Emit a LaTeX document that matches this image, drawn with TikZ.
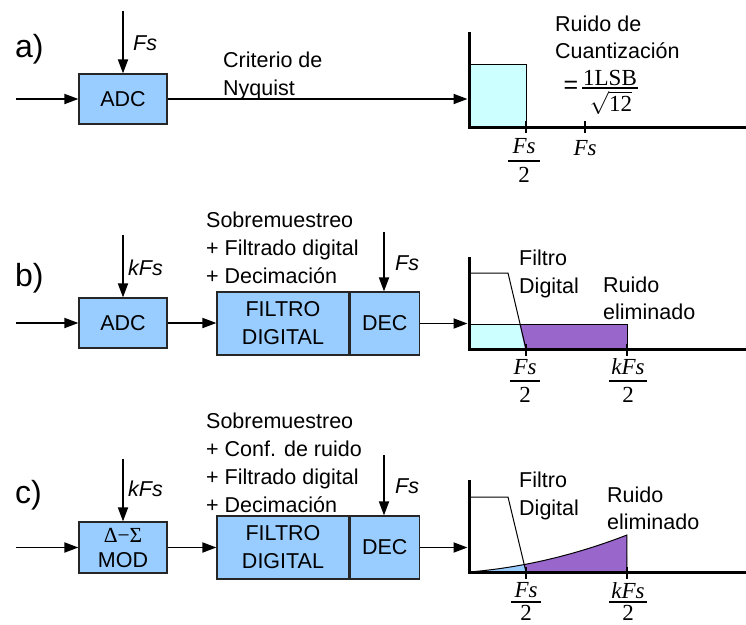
\RequirePackage{fix-cm}
\documentclass[tikz,border=0pt]{standalone}
\usepackage{fontspec}
\setmainfont{Liberation Serif}
\setsansfont{Liberation Sans}
\usetikzlibrary{arrows.meta}
\definecolor{boxblue}{HTML}{99CCFF}
\definecolor{lcyan}{HTML}{CCFFFF}
\definecolor{npurple}{HTML}{9966CC}
\begin{document}
\begin{tikzpicture}[x=1pt,y=-1pt,
  blk/.style={draw=black!85, fill=boxblue, line width=1.2pt, font=\sffamily\fontsize{21.5}{28}\selectfont, align=center, inner sep=0},
  sig/.style={line width=1.8pt, -{Triangle[length=14pt,width=10pt]}},
  axisln/.style={line width=3pt},
  lbl/.style={font=\sffamily\fontsize{21.5}{27.7}\selectfont, align=left, inner sep=0, anchor=west},
  clk/.style={font=\sffamily\itshape\fontsize{21.5}{24}\selectfont, inner sep=0, anchor=base west},
  part/.style={font=\sffamily\fontsize{32}{32}\selectfont, inner sep=0, anchor=base west},
  mth/.style={font=\rmfamily\itshape\fontsize{23}{23}\selectfont, inner sep=0},
  mthu/.style={font=\rmfamily\fontsize{23}{23}\selectfont, inner sep=0},
  fbar/.style={line width=1.5pt},
  tickln/.style={line width=1.3pt},
  thin/.style={line width=1pt}]
\useasboundingbox (0,0) rectangle (746,624);

% ================= a) =================
\node[part] (la) at (15,57) {a)};
\node[blk, minimum width=88pt, minimum height=50pt] (adcA) at (123,99) {ADC};
\coordinate (inA) at (16,99);
\coordinate (ckA) at (123,11);
\coordinate (outA) at (467.5,99);
\draw[sig] (inA) -- (adcA);
\draw[sig] (ckA) -- (adcA);
\draw[sig] (adcA) -- (outA);
\node[clk] (fsA) at (133,50) {Fs};
\node[lbl] (crit) at (223,75.8) {Criterio de\\Nyquist};
% plot a
\filldraw[fill=lcyan, draw=black, thin] (469,64) rectangle (526,127);
\draw[axisln] (469,32) -- (469,127) -- (746,127);
\draw[tickln] (526,121) -- (526,133);
\draw[tickln] (585,121) -- (585,133);
\node[mth] (fa1n) at (524,146) {Fs};
\draw[fbar] (508,161) -- (540,161);
\node[mthu] (fa1d) at (524,175) {2};
\node[mth] (fa2) at (585,148) {Fs};
\node[lbl, font=\sffamily\fontsize{21.5}{26.7}\selectfont] (ruidoA) at (555,37.5) {Ruido de\\Cuantización};
\node[font=\sffamily\fontsize{25}{25}\selectfont, inner sep=0] (eqA) at (571,87.5) {=};
\node[font=\rmfamily\fontsize{23}{23}\selectfont, inner sep=0] (lsbn) at (610,78) {1LSB};
\draw[fbar] (582,88) -- (638,88);
\node[font=\rmfamily\fontsize{23}{23}\selectfont, inner sep=0] (lsbd) at (611,103) {$\sqrt{\textrm{12}}$};

% ================= b) =================
\node[part] (lb) at (15,286) {b)};
\node[blk, minimum width=88pt, minimum height=50pt] (adcB) at (123,323) {ADC};
\node[blk, minimum width=132pt, minimum height=63pt] (filtB) at (283,323.5) {FILTRO\\DIGITAL};
\node[blk, minimum width=69pt, minimum height=63pt, anchor=west] (decB) at (filtB.east) {DEC};
\coordinate (inB) at (16,323);
\coordinate (ckB) at (123,235);
\coordinate (ck2B) at (384,232);
\coordinate (outB) at (467.5,323.5);
\draw[sig] (inB) -- (adcB);
\draw[sig] (ckB) -- (adcB);
\draw[sig] (adcB) -- (adcB.east -| filtB.west);
\draw[sig] (ck2B) -- (ck2B |- decB.north);
\draw[sig] (decB) -- (outB);
\node[clk] (kfsB) at (128,275) {kFs};
\node[clk] (fsB) at (395,270) {Fs};
\node[lbl] (sobB) at (206,247.7) {Sobremuestreo\\+ Filtrado digital\\+ Decimación};
% plot b
\fill[lcyan] (469,324) -- (519.4,324) -- (525,349) -- (469,349) -- cycle;
\fill[npurple] (519.4,324) -- (627,324) -- (627,349) -- (525,349) -- cycle;
\draw[thin] (469,324) rectangle (627,349);
\draw[thin] (469,273) -- (508,273) -- (526,349);
\draw[axisln] (469,257) -- (469,349) -- (746,349);
\draw[tickln] (526,344) -- (526,356);
\draw[tickln] (627,344) -- (627,356);
\node[mth] (fb1n) at (525,367) {Fs};
\draw[fbar] (510,381) -- (540,381);
\node[mthu] (fb1d) at (525,395) {2};
\node[mth] (fb2n) at (628,367) {kFs};
\draw[fbar] (609,381) -- (647,381);
\node[mthu] (fb2d) at (628,395) {2};
\node[lbl] (filB) at (519,273.7) {Filtro\\Digital};
\node[lbl] (elimB) at (603,298.2) {Ruido\\eliminado};

% ================= c) =================
\node[part] (lc) at (15,503) {c)};
\node[blk, minimum width=88pt, minimum height=51pt, font=\sffamily\fontsize{21.5}{25}\selectfont] (modC) at (123,547.5) {{\rmfamily Δ−Σ}\\MOD};
\node[blk, minimum width=132pt, minimum height=63pt] (filtC) at (283,547.5) {FILTRO\\DIGITAL};
\node[blk, minimum width=69pt, minimum height=63pt, anchor=west] (decC) at (filtC.east) {DEC};
\coordinate (inC) at (16,547.5);
\coordinate (ckC) at (123,459);
\coordinate (ck2C) at (384,455);
\coordinate (outC) at (467.5,547.5);
\draw[sig] (inC) -- (modC);
\draw[sig] (ckC) -- (modC);
\draw[sig] (modC) -- (modC.east -| filtC.west);
\draw[sig] (ck2C) -- (ck2C |- decC.north);
\draw[sig] (decC) -- (outC);
\node[clk] (kfsC) at (128,496.7) {kFs};
\node[clk] (fsC) at (395,493.3) {Fs};
\node[lbl, font=\sffamily\fontsize{21.5}{28}\selectfont] (sobC) at (206,462.4) {Sobremuestreo\\+ Conf. de ruido\\+ Filtrado digital\\+ Decimación};
% plot c
\fill[boxblue] (469,572) -- plot[domain=0:0.35, samples=20] ({469+158*\x},{572-37*(0.35*\x+0.65*\x*\x)}) -- (526,572) -- cycle;
\fill[npurple] plot[domain=0.35:1, samples=40] ({469+158*\x},{572-37*(0.35*\x+0.65*\x*\x)}) -- (627,572) -- (526,572) -- cycle;
\draw[thin] plot[domain=0:1, samples=60, smooth] ({469+158*\x},{572-37*(0.35*\x+0.65*\x*\x)}) -- (627,572);
\draw[thin] (469,497) -- (508,497) -- (526,572);
\draw[axisln] (469,480) -- (469,572) -- (746,572);
\draw[tickln] (526,567) -- (526,579);
\draw[tickln] (627,567) -- (627,579);
\node[mth] (fc1n) at (526,590.5) {Fs};
\draw[fbar] (511,602) -- (541,602);
\node[mthu] (fc1d) at (526,612.5) {2};
\node[mth] (fc2n) at (628,590.5) {kFs};
\draw[fbar] (609,602) -- (647,602);
\node[mthu] (fc2d) at (628,612.5) {2};
\node[lbl] (filC) at (519,496) {Filtro\\Digital};
\node[lbl] (elimC) at (607,508.2) {Ruido\\eliminado};
\end{tikzpicture}
\end{document}
